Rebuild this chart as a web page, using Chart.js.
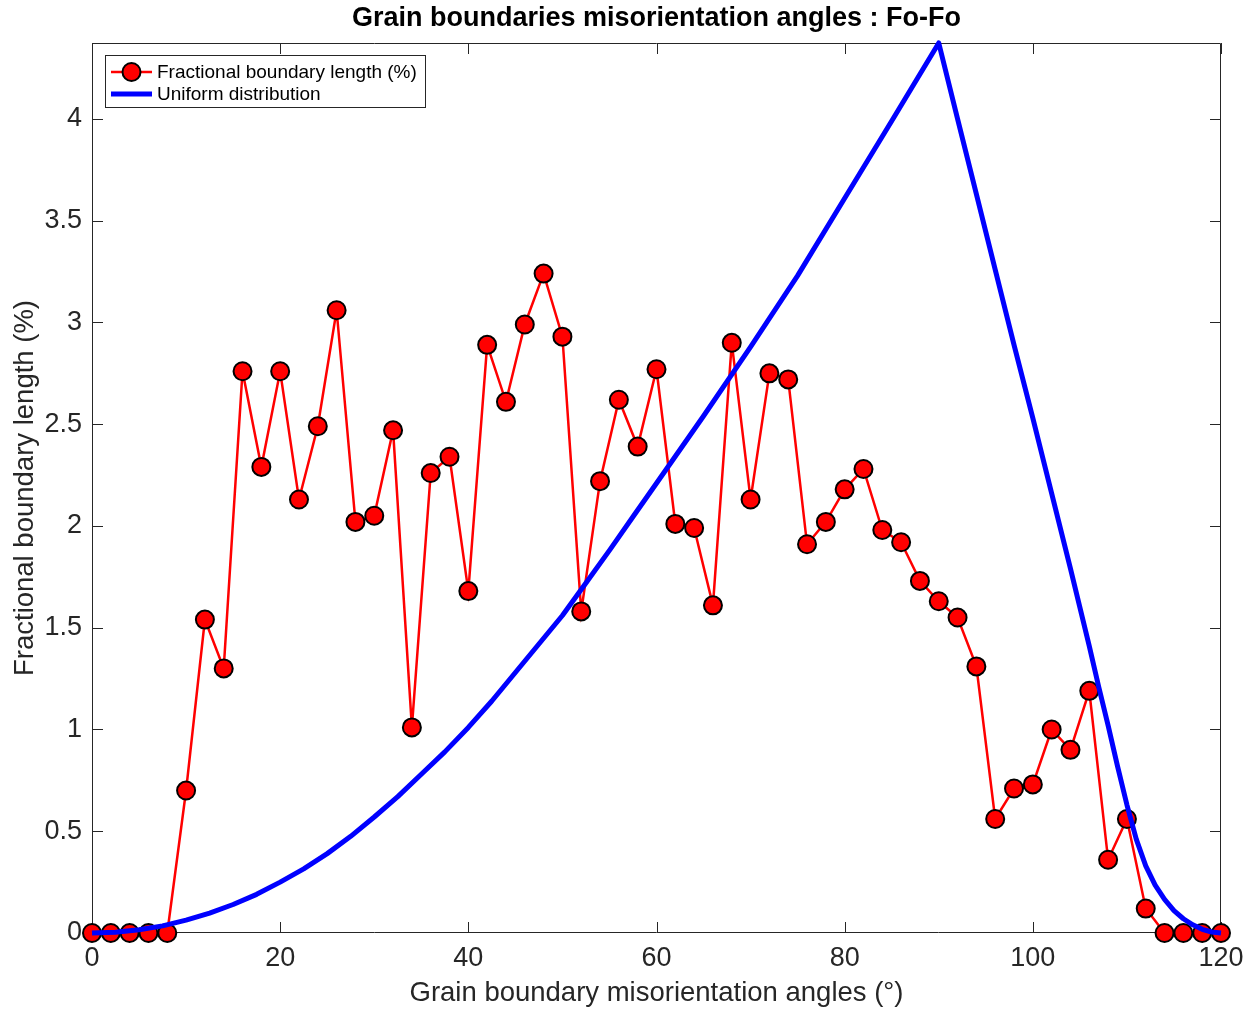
<!DOCTYPE html>
<html>
<head>
<meta charset="utf-8">
<title>Grain boundaries misorientation angles : Fo-Fo</title>
<script src="https://cdn.jsdelivr.net/npm/chart.js@4.4.1/dist/chart.umd.min.js"></script>
<style>
  html, body { margin: 0; padding: 0; background: #fff; }
  #chart { display: block; }
</style>
</head>
<body>
<canvas id="chart" width="1247" height="1010"></canvas>
<script>
// misorientation angle bins (deg)
var angles = [0, 2, 4, 6, 8, 10, 12, 14, 16, 18, 20, 22, 24, 26, 28, 30, 32, 34, 36, 38,
    40, 42, 44, 46, 48, 50, 52, 54, 56, 58, 60, 62, 64, 66, 68, 70, 72, 74, 76, 78,
    80, 82, 84, 86, 88, 90, 92, 94, 96, 98, 100, 102, 104, 106, 108, 110, 112, 114, 116, 118, 120];

// fractional boundary length (%)
var boundaryLength = [0, 0, 0, 0, 0, 0.70, 1.54, 1.30, 2.76, 2.29, 2.76, 2.13, 2.49, 3.06, 2.02, 2.05, 2.47, 1.01, 2.26, 2.34,
    1.68, 2.89, 2.61, 2.99, 3.24, 2.93, 1.58, 2.22, 2.62, 2.39, 2.77, 2.01, 1.99, 1.61, 2.90, 2.13, 2.75, 2.72, 1.91, 2.02,
    2.18, 2.28, 1.98, 1.92, 1.73, 1.63, 1.55, 1.31, 0.56, 0.71, 0.73, 1.00, 0.90, 1.19, 0.36, 0.56, 0.12, 0, 0, 0, 0];

// uniform (random) distribution curve
var uniformAngles = [0, 2.5, 5, 7.5, 10, 12.5, 15, 17.5, 20, 22.5, 25, 27.5, 30, 32.5, 35, 37.5, 40, 42.5, 45, 47.5,
    50, 52.5, 55, 57.5, 60, 65, 70, 75, 80, 85, 90,
    92, 94, 96, 98, 100, 102, 104, 105, 106, 107, 108, 109, 110, 111, 112, 113, 114, 115, 116, 117, 118, 119, 120];
var uniformValues = [0, 0.004, 0.016, 0.035, 0.063, 0.098, 0.14, 0.19, 0.25, 0.315, 0.39, 0.475, 0.57, 0.67, 0.78, 0.89, 1.01, 1.14, 1.28, 1.42,
    1.56, 1.72, 1.88, 2.045, 2.21, 2.54, 2.88, 3.23, 3.61, 3.99, 4.373,
    4.00, 3.63, 3.26, 2.89, 2.53, 2.16, 1.79, 1.60, 1.41, 1.21, 1.02, 0.82, 0.63, 0.46, 0.33, 0.235, 0.165, 0.11, 0.07, 0.04, 0.018, 0.005, 0];

var xTicks = [0, 20, 40, 60, 80, 100, 120];
var yTicks = [0, 0.5, 1, 1.5, 2, 2.5, 3, 3.5, 4];

var axisColor = '#262626';
var fontFamily = '"Liberation Sans", Arial, Helvetica, sans-serif';

// matlab style box with ticks pointing inwards
var axesBox = {
    id: 'axesBox',
    beforeDatasetsDraw: function(chart) {
        var ctx = chart.ctx;
        var a = chart.chartArea;
        var xs = chart.scales.x, ys = chart.scales.y;
        var len = 11;
        ctx.save();
        ctx.strokeStyle = axisColor;
        ctx.lineWidth = 1;
        ctx.beginPath();
        ctx.rect(a.left + 0.5, a.top + 0.5, a.right - a.left - 1, a.bottom - a.top - 1);
        xTicks.forEach(function(v) {
            var px = Math.round(xs.getPixelForValue(v)) + 0.5;
            ctx.moveTo(px, a.bottom);
            ctx.lineTo(px, a.bottom - len);
            ctx.moveTo(px, a.top);
            ctx.lineTo(px, a.top + len);
        });
        yTicks.forEach(function(v) {
            var py = Math.round(ys.getPixelForValue(v)) + 0.5;
            ctx.moveTo(a.left, py);
            ctx.lineTo(a.left + len, py);
            ctx.moveTo(a.right, py);
            ctx.lineTo(a.right - len, py);
        });
        ctx.stroke();
        ctx.restore();
    }
};

// legend box in the upper left corner
var legendBox = {
    id: 'legendBox',
    afterDraw: function(chart) {
        var ctx = chart.ctx;
        var bx = 105.5, by = 55.5, bw = 320, bh = 52;
        ctx.save();
        ctx.fillStyle = '#fff';
        ctx.fillRect(bx, by, bw, bh);
        ctx.strokeStyle = axisColor;
        ctx.lineWidth = 1;
        ctx.strokeRect(bx, by, bw, bh);

        var rows = [72, 94];
        chart.data.datasets.forEach(function(ds, i) {
            var y = rows[i];
            ctx.strokeStyle = ds.borderColor;
            ctx.lineWidth = ds.borderWidth;
            ctx.beginPath();
            ctx.moveTo(111, y);
            ctx.lineTo(152, y);
            ctx.stroke();
            if (ds.pointRadius > 0) {
                ctx.beginPath();
                ctx.arc(131.5, y, ds.pointRadius, 0, Math.PI * 2);
                ctx.fillStyle = ds.pointBackgroundColor;
                ctx.fill();
                ctx.lineWidth = ds.pointBorderWidth;
                ctx.strokeStyle = ds.pointBorderColor;
                ctx.stroke();
            }
            ctx.fillStyle = '#000';
            ctx.font = '19px ' + fontFamily;
            ctx.textBaseline = 'middle';
            ctx.textAlign = 'left';
            ctx.fillText(ds.label, 157, y + 1);
        });
        ctx.restore();
    }
};

var dataChart = {
    datasets: [
        {
            label: 'Fractional boundary length (%)',
            data: angles.map(function(a, i) { return { x: a, y: boundaryLength[i] }; }),
            borderColor: '#ff0000',
            borderWidth: 2.5,
            pointRadius: 9,
            pointBackgroundColor: '#ff0000',
            pointBorderColor: '#000000',
            pointBorderWidth: 2,
            tension: 0,
            clip: false,
            order: 1
        },
        {
            label: 'Uniform distribution',
            data: uniformAngles.map(function(a, i) { return { x: a, y: uniformValues[i] }; }),
            borderColor: '#0000ff',
            borderWidth: 5,
            borderJoinStyle: 'round',
            pointRadius: 0,
            tension: 0,
            clip: false,
            order: 0
        }
    ]
};

var configChart = {
    type: 'line',
    data: dataChart,
    options: {
        responsive: false,
        animation: false,
        events: [],
        layout: { padding: { top: 0, right: 26, bottom: 0, left: 0 } },
        plugins: {
            legend: { display: false },
            tooltip: { enabled: false },
            title: {
                display: true,
                text: 'Grain boundaries misorientation angles : Fo-Fo',
                fullSize: false,
                color: '#000',
                font: { family: fontFamily, size: 27, weight: 'bold' },
                padding: { top: 2, bottom: 8.6 }
            }
        },
        scales: {
            x: {
                type: 'linear',
                min: 0,
                max: 120,
                grid: { display: false, drawTicks: false },
                border: { display: false },
                afterBuildTicks: function(scale) {
                    scale.ticks = xTicks.map(function(v) { return { value: v }; });
                },
                afterFit: function(scale) {
                    scale.height = 77;
                    scale.paddingLeft = 0;
                    scale.paddingRight = 0;
                },
                ticks: {
                    color: axisColor,
                    padding: 9,
                    maxRotation: 0,
                    font: { family: fontFamily, size: 27 }
                },
                title: {
                    display: true,
                    text: 'Grain boundary misorientation angles (°)',
                    color: axisColor,
                    font: { family: fontFamily, size: 27.5 },
                    padding: { top: 0, bottom: 0 }
                }
            },
            y: {
                min: 0,
                max: 4.373,
                grid: { display: false, drawTicks: false },
                border: { display: false },
                afterBuildTicks: function(scale) {
                    scale.ticks = yTicks.map(function(v) { return { value: v }; });
                },
                afterFit: function(scale) {
                    scale.width = 92;
                    scale.paddingTop = 0;
                    scale.paddingBottom = 0;
                },
                ticks: {
                    color: axisColor,
                    padding: 10,
                    font: { family: fontFamily, size: 27 },
                    callback: function(value) {
                        return String(value);
                    }
                },
                title: {
                    display: true,
                    text: 'Fractional boundary length (%)',
                    color: axisColor,
                    font: { family: fontFamily, size: 27.5 },
                    padding: { top: 8.5, bottom: 0 }
                }
            }
        }
    },
    plugins: [axesBox, legendBox]
};

var chart = new Chart(document.getElementById('chart'), configChart);
</script>
</body>
</html>
